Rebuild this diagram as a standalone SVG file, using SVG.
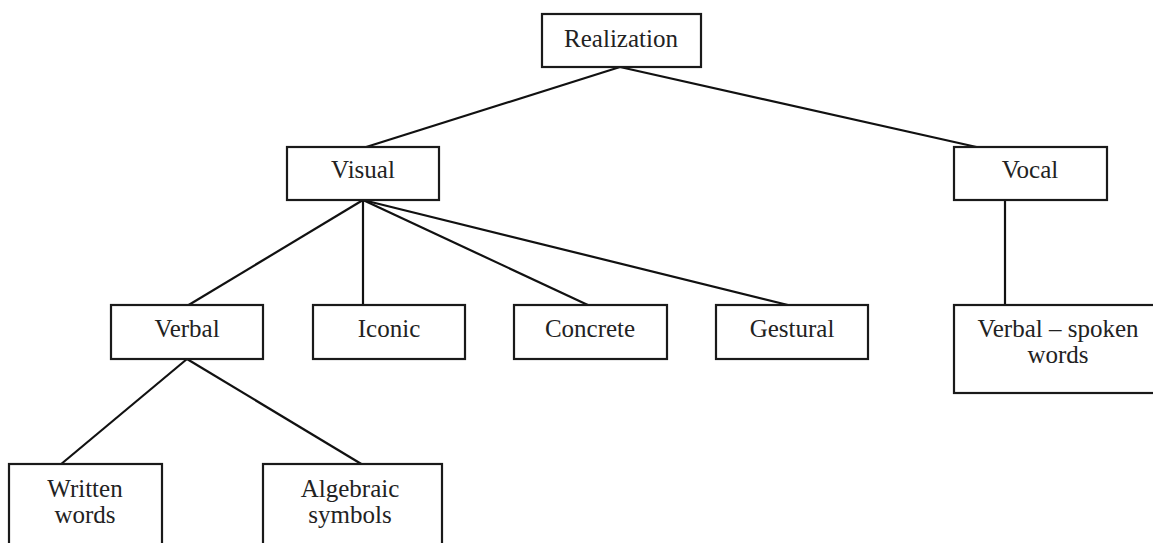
<svg xmlns="http://www.w3.org/2000/svg" width="1153" height="543" viewBox="0 0 1153 543">
<style>
rect{fill:#fff;stroke:#1a1a1a;stroke-width:2.2}
text{font-family:"Liberation Serif","Times New Roman",serif;font-size:25px;fill:#222;text-anchor:middle}
#connectors line{stroke:#111;stroke-width:2.2}
</style>
<rect x="0" y="0" width="1153" height="543" style="fill:#fff;stroke:none"/>
<g id="connectors">
<line x1="620" y1="67" x2="363" y2="148"/>
<line x1="620" y1="67" x2="981" y2="148"/>
<line x1="363" y1="200" x2="187" y2="306"/>
<line x1="363" y1="200" x2="363" y2="306"/>
<line x1="363" y1="200" x2="590" y2="306"/>
<line x1="363" y1="200" x2="792" y2="306"/>
<line x1="1005" y1="200" x2="1005" y2="306"/>
<line x1="187" y1="359" x2="60" y2="465"/>
<line x1="187" y1="359" x2="363" y2="465"/>
</g>
<g id="realization"><rect x="542" y="14" width="159" height="53"/><text x="621" y="47">Realization</text></g>
<g id="visual"><rect x="287" y="147" width="152" height="53"/><text x="363" y="178">Visual</text></g>
<g id="vocal"><rect x="954" y="147" width="153" height="53"/><text x="1030" y="178">Vocal</text></g>
<g id="verbal"><rect x="111" y="305" width="152" height="54"/><text x="187" y="337">Verbal</text></g>
<g id="iconic"><rect x="313" y="305" width="152" height="54"/><text x="389" y="337">Iconic</text></g>
<g id="concrete"><rect x="514" y="305" width="153" height="54"/><text x="590" y="337">Concrete</text></g>
<g id="gestural"><rect x="716" y="305" width="152" height="54"/><text x="792" y="337">Gestural</text></g>
<g id="verbal-spoken"><rect x="954" y="305" width="210" height="88"/><text x="1058" y="337">Verbal – spoken</text><text x="1058" y="363">words</text></g>
<g id="written-words"><rect x="9" y="464" width="153" height="90"/><text x="85" y="497">Written</text><text x="85" y="523">words</text></g>
<g id="algebraic-symbols"><rect x="263" y="464" width="179" height="90"/><text x="350" y="497">Algebraic</text><text x="350" y="523">symbols</text></g>
</svg>
